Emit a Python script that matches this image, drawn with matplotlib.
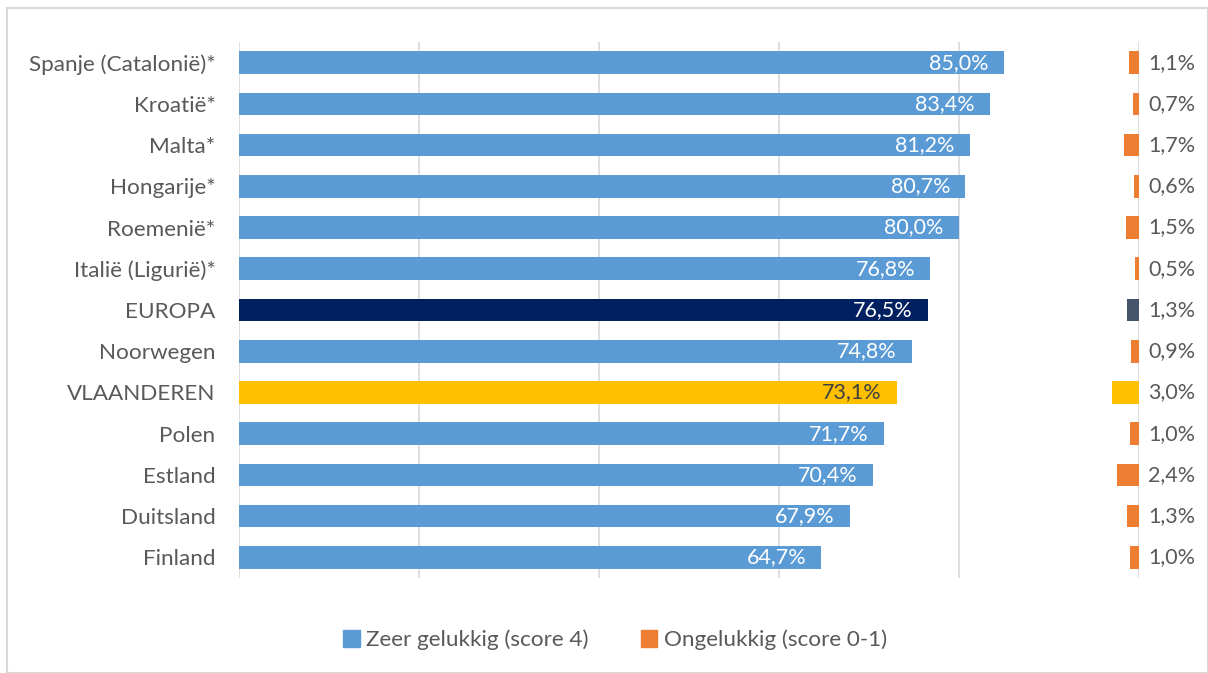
import matplotlib.pyplot as plt
from matplotlib.patches import Rectangle

plt.rcParams['font.family'] = ['Lato', 'DejaVu Sans']

# data (top to bottom)
landen = ['Spanje (Catalonië)*', 'Kroatië*', 'Malta*', 'Hongarije*', 'Roemenië*',
          'Italië (Ligurië)*', 'EUROPA', 'Noorwegen', 'VLAANDEREN', 'Polen',
          'Estland', 'Duitsland', 'Finland']
zeer_gelukkig = [85.0, 83.4, 81.2, 80.7, 80.0, 76.8, 76.5, 74.8, 73.1, 71.7, 70.4, 67.9, 64.7]
ongelukkig = [1.1, 0.7, 1.7, 0.6, 1.5, 0.5, 1.3, 0.9, 3.0, 1.0, 2.4, 1.3, 1.0]

BLUE = '#5B9BD5'
ORANGE = '#ED7D31'
special_main = {'EUROPA': '#002060', 'VLAANDEREN': '#FFC000'}
special_neg = {'EUROPA': '#44546A', 'VLAANDEREN': '#FFC000'}
TXT = '#595959'

fig = plt.figure(figsize=(12.08, 6.73), dpi=100)
fig.patches.append(Rectangle((7 / 1208, 0), 1 - 7 / 1208, 1 - 8 / 673, transform=fig.transFigure,
                             fill=False, edgecolor='#D9D9D9', linewidth=1.5))
ax = fig.add_axes([239 / 1208, 1 - 578 / 673, 900 / 1208, 536 / 673])

y = list(range(len(landen)))
for i, land in enumerate(landen):
    c = special_main.get(land, BLUE)
    ax.barh(i, zeer_gelukkig[i], height=0.55, color=c, zorder=3)
    tc = '#404040' if land == 'VLAANDEREN' else 'white'
    ax.text(zeer_gelukkig[i] - 1.7, i, f'{zeer_gelukkig[i]:.1f}%'.replace('.', ','),
            ha='right', va='center', color=tc, fontsize=15.5, zorder=4)
    c2 = special_neg.get(land, ORANGE)
    ax.barh(i, ongelukkig[i], left=100 - ongelukkig[i], height=0.55, color=c2, zorder=3)
    ax.text(101, i, f'{ongelukkig[i]:.1f}%'.replace('.', ','),
            ha='left', va='center', color=TXT, fontsize=15.5)

ax.set_xlim(0, 100)
ax.set_ylim(len(landen) - 0.5, -0.5)
ax.set_xticks([0, 20, 40, 60, 80, 100])
ax.set_xticklabels([])
ax.set_yticks(y)
ax.set_yticklabels(landen, fontsize=16.2, color=TXT)
ax.tick_params(axis='both', length=0, pad=17)
ax.grid(axis='x', color='#D9D9D9', linewidth=1.2, zorder=0)
for s in ax.spines.values():
    s.set_visible(False)

handles = [Rectangle((0, 0), 1, 1, color=BLUE), Rectangle((0, 0), 1, 1, color=ORANGE)]
fig.legend(handles, ['Zeer gelukkig (score 4)', 'Ongelukkig (score 0-1)'],
           loc='center', bbox_to_anchor=(615 / 1208, 1 - 640 / 673), ncol=2, frameon=False,
           fontsize=16.2, labelcolor=TXT, handlelength=0.75, handleheight=0.75,
           handletextpad=0.3, columnspacing=2.3)

fig.savefig('out.png', dpi=100)
